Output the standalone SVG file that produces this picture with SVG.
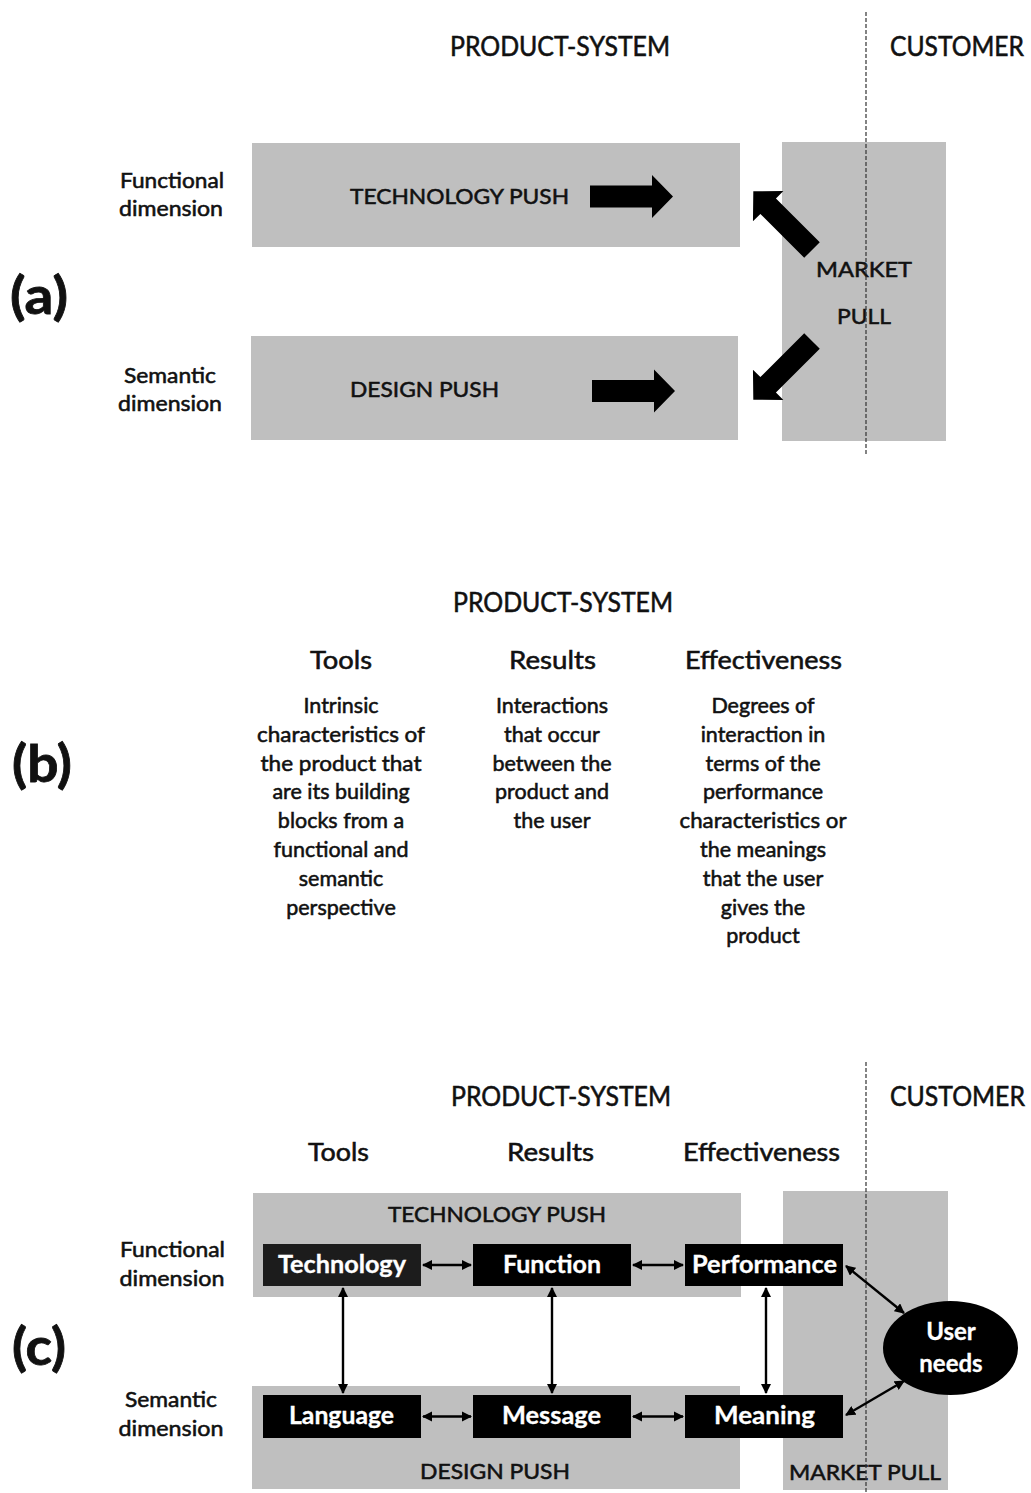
<svg xmlns="http://www.w3.org/2000/svg" width="1031" height="1493" viewBox="0 0 1031 1493">
<style>
text{font-family:Lato,"Open Sans","Liberation Sans",sans-serif;fill:#111;stroke:#111;stroke-width:0.55px;text-anchor:middle}
.h{font-size:26px}
.dim{font-size:21px}
.lab{font-size:52px;font-weight:bold;stroke-width:0.8px}
.push{font-size:22px}
.col{font-size:25px}
.body{font-size:21.5px}
.box{font-size:24px;font-weight:bold;fill:#fff;stroke:#fff;stroke-width:0.3px}
.gray{fill:#bfbfbf}
.blk{fill:#000}
.dash{stroke:#333;stroke-width:1.2;stroke-dasharray:4 2;fill:none}
.con{stroke:#000;stroke-width:2.4;fill:none;marker-start:url(#ah);marker-end:url(#ah)}
</style>
<defs>
<marker id="ah" viewBox="0 0 10 10" refX="9" refY="5" markerWidth="4.2" markerHeight="4.2" orient="auto-start-reverse" markerUnits="strokeWidth">
<path d="M0,0 L10,5 L0,10 Z" fill="#000"/>
</marker>
<path id="bigArrow" d="M0,-11 H62 V-21.5 L83,0 L62,21.5 V11 H0 Z" fill="#000"/>
</defs>
<rect width="1031" height="1493" fill="#fff"/>

<!-- (a) -->
<g id="a-labels">
<text class="h" x="560" y="56" textLength="220" lengthAdjust="spacingAndGlyphs">PRODUCT-SYSTEM</text>
<text class="h" x="957" y="56" textLength="134" lengthAdjust="spacingAndGlyphs">CUSTOMER</text>
<text class="dim" x="172" y="188" textLength="104" lengthAdjust="spacingAndGlyphs">Functional</text>
<text class="dim" x="171" y="216" textLength="104" lengthAdjust="spacingAndGlyphs">dimension</text>
<text class="dim" x="170" y="383" textLength="92" lengthAdjust="spacingAndGlyphs">Semantic</text>
<text class="dim" x="170" y="411" textLength="104" lengthAdjust="spacingAndGlyphs">dimension</text>
<text class="lab" x="39" y="314" textLength="58" lengthAdjust="spacingAndGlyphs">(a)</text>
</g>
<g id="a-technology-push">
<rect class="gray" x="252" y="143" width="488" height="104"/>
<text class="push" x="459.5" y="204" textLength="219" lengthAdjust="spacingAndGlyphs">TECHNOLOGY PUSH</text>
</g>
<g id="a-design-push">
<rect class="gray" x="251" y="336" width="487" height="104"/>
<text class="push" x="424.5" y="397" textLength="149" lengthAdjust="spacingAndGlyphs">DESIGN PUSH</text>
</g>
<g id="a-market-pull">
<rect class="gray" x="782" y="142" width="164" height="299"/>
<text class="push" x="864" y="277" textLength="96" lengthAdjust="spacingAndGlyphs">MARKET</text>
<text class="push" x="864" y="324" textLength="54" lengthAdjust="spacingAndGlyphs">PULL</text>
</g>
<g id="a-connectors">
<line class="dash" x1="866" y1="12" x2="866" y2="455"/>
<use href="#bigArrow" transform="translate(590,196.5)"/>
<use href="#bigArrow" transform="translate(592,391)"/>
<use href="#bigArrow" transform="translate(812,250) rotate(-135)"/>
<use href="#bigArrow" transform="translate(812,341) rotate(135)"/>
</g>

<!-- (b) -->
<g id="b-labels">
<text class="h" x="563" y="612" textLength="220" lengthAdjust="spacingAndGlyphs">PRODUCT-SYSTEM</text>
<text class="lab" x="42" y="782" textLength="60" lengthAdjust="spacingAndGlyphs">(b)</text>
</g>
<g id="b-tools">
<text class="col" x="341" y="669" textLength="62" lengthAdjust="spacingAndGlyphs">Tools</text>
<text class="body" x="341" y="713">Intrinsic</text>
<text class="body" x="341" y="742" textLength="168" lengthAdjust="spacingAndGlyphs">characteristics of</text>
<text class="body" x="341" y="771" textLength="161" lengthAdjust="spacingAndGlyphs">the product that</text>
<text class="body" x="341" y="799">are its building</text>
<text class="body" x="341" y="828">blocks from a</text>
<text class="body" x="341" y="857">functional and</text>
<text class="body" x="341" y="886">semantic</text>
<text class="body" x="341" y="915">perspective</text>
</g>
<g id="b-results">
<text class="col" x="552.5" y="669" textLength="87" lengthAdjust="spacingAndGlyphs">Results</text>
<text class="body" x="552" y="713">Interactions</text>
<text class="body" x="552" y="742">that occur</text>
<text class="body" x="552" y="771">between the</text>
<text class="body" x="552" y="799">product and</text>
<text class="body" x="552" y="828">the user</text>
</g>
<g id="b-effectiveness">
<text class="col" x="763.5" y="669" textLength="157" lengthAdjust="spacingAndGlyphs">Effectiveness</text>
<text class="body" x="763" y="713">Degrees of</text>
<text class="body" x="763" y="742">interaction in</text>
<text class="body" x="763" y="771">terms of the</text>
<text class="body" x="763" y="799">performance</text>
<text class="body" x="763" y="828" textLength="167" lengthAdjust="spacingAndGlyphs">characteristics or</text>
<text class="body" x="763" y="857">the meanings</text>
<text class="body" x="763" y="886">that the user</text>
<text class="body" x="763" y="915">gives the</text>
<text class="body" x="763" y="943">product</text>
</g>

<!-- (c) -->
<g id="c-labels">
<text class="h" x="561" y="1106" textLength="220" lengthAdjust="spacingAndGlyphs">PRODUCT-SYSTEM</text>
<text class="h" x="957.5" y="1106" textLength="135" lengthAdjust="spacingAndGlyphs">CUSTOMER</text>
<text class="col" x="338.5" y="1161" textLength="61" lengthAdjust="spacingAndGlyphs">Tools</text>
<text class="col" x="550.5" y="1161" textLength="87" lengthAdjust="spacingAndGlyphs">Results</text>
<text class="col" x="761.5" y="1161" textLength="157" lengthAdjust="spacingAndGlyphs">Effectiveness</text>
<text class="dim" x="172.5" y="1257" textLength="105" lengthAdjust="spacingAndGlyphs">Functional</text>
<text class="dim" x="172" y="1286" textLength="105" lengthAdjust="spacingAndGlyphs">dimension</text>
<text class="dim" x="171" y="1407" textLength="92" lengthAdjust="spacingAndGlyphs">Semantic</text>
<text class="dim" x="171" y="1436" textLength="105" lengthAdjust="spacingAndGlyphs">dimension</text>
<text class="lab" x="39" y="1365" textLength="54" lengthAdjust="spacingAndGlyphs">(c)</text>
</g>
<g id="c-technology-push">
<rect class="gray" x="253" y="1193" width="488" height="104"/>
<text class="push" x="497" y="1222" textLength="218" lengthAdjust="spacingAndGlyphs">TECHNOLOGY PUSH</text>
</g>
<g id="c-design-push">
<rect class="gray" x="252" y="1386" width="488" height="103"/>
<text class="push" x="495" y="1479" textLength="150" lengthAdjust="spacingAndGlyphs">DESIGN PUSH</text>
</g>
<g id="c-market-pull">
<rect class="gray" x="783" y="1191" width="165" height="299"/>
<text class="push" x="865" y="1480" textLength="152" lengthAdjust="spacingAndGlyphs">MARKET PULL</text>
</g>
<g id="c-technology">
<rect x="263" y="1244" width="158" height="42" fill="#1c1c1c"/>
<text class="box" x="342" y="1273" textLength="128" lengthAdjust="spacingAndGlyphs">Technology</text>
</g>
<g id="c-function">
<rect class="blk" x="473" y="1244" width="158" height="42"/>
<text class="box" x="552" y="1273" textLength="98" lengthAdjust="spacingAndGlyphs">Function</text>
</g>
<g id="c-performance">
<rect class="blk" x="685" y="1244" width="158" height="42"/>
<text class="box" x="764.5" y="1273" textLength="145" lengthAdjust="spacingAndGlyphs">Performance</text>
</g>
<g id="c-language">
<rect class="blk" x="263" y="1395" width="158" height="43"/>
<text class="box" x="341.5" y="1424" textLength="105" lengthAdjust="spacingAndGlyphs">Language</text>
</g>
<g id="c-message">
<rect class="blk" x="473" y="1395" width="158" height="43"/>
<text class="box" x="551.5" y="1424" textLength="99" lengthAdjust="spacingAndGlyphs">Message</text>
</g>
<g id="c-meaning">
<rect class="blk" x="685" y="1395" width="158" height="43"/>
<text class="box" x="764.5" y="1424" textLength="101" lengthAdjust="spacingAndGlyphs">Meaning</text>
</g>
<g id="c-user-needs">
<ellipse class="blk" cx="950.5" cy="1348" rx="67.5" ry="47"/>
<text class="box" x="951" y="1340">User</text>
<text class="box" x="951" y="1372">needs</text>
</g>
<g id="c-connectors">
<line class="dash" x1="866" y1="1062" x2="866" y2="1493"/>
<line class="con" x1="423" y1="1265" x2="471" y2="1265"/>
<line class="con" x1="633" y1="1265" x2="683" y2="1265"/>
<line class="con" x1="423" y1="1416.5" x2="471" y2="1416.5"/>
<line class="con" x1="633" y1="1416.5" x2="683" y2="1416.5"/>
<line class="con" x1="343" y1="1288" x2="343" y2="1393"/>
<line class="con" x1="552" y1="1288" x2="552" y2="1393"/>
<line class="con" x1="766" y1="1288" x2="766" y2="1393"/>
<line class="con" x1="846" y1="1266" x2="904" y2="1313"/>
<line class="con" x1="904" y1="1381" x2="846" y2="1415"/>
</g>
</svg>
